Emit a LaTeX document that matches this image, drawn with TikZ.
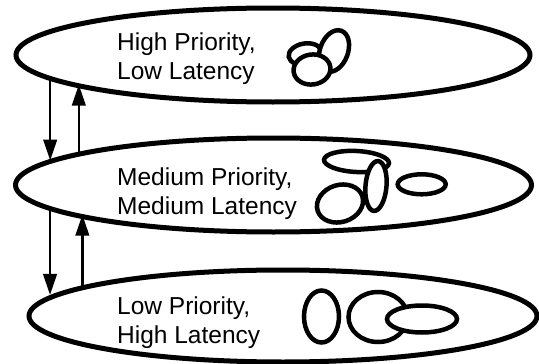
\documentclass[tikz,border=0pt]{standalone}
\usepackage{fontspec}
\setmainfont{Liberation Sans}
\usetikzlibrary{shapes.geometric,arrows.meta}
\begin{document}
\begin{tikzpicture}[x=1pt,y=-1pt,
  layer/.style={ellipse, draw, line width=5pt, inner sep=0pt, outer sep=0pt},
  lbl/.style={anchor=base west, inner sep=0pt, font=\fontsize{24.5}{29}\selectfont},
  blob/.style={draw, fill=white, line width=4.5pt},
  link/.style={line width=2.6pt, -{Triangle[length=21pt,width=13.5pt]}, shorten >=1pt}
]
\useasboundingbox (0,0) rectangle (539,364);
% layers
\node[layer, minimum width=514pt, minimum height=94pt] (top) at (273,55) {};
\node[layer, minimum width=516pt, minimum height=94pt] (mid) at (273.5,185) {};
\node[layer, minimum width=508pt, minimum height=92pt] (bot) at (283,316) {};
% labels
\node[lbl] (t1) at (117,50) {High Priority,};
\node[lbl] (t2) at (117,79) {Low Latency};
\node[lbl] (m1) at (117,185) {Medium Priority,};
\node[lbl] (m2) at (117,214) {Medium Latency};
\node[lbl] (b1) at (117,314) {Low Priority,};
\node[lbl] (b2) at (117,343) {High Latency};
% top icons
\draw[blob, rotate around={10:(305,54)}] (305,54) ellipse [x radius=16.5, y radius=10.5];
\draw[blob, rotate around={-20:(334,51)}] (334,51) ellipse [x radius=14, y radius=21.5];
\draw[blob, rotate around={8:(312,69.5)}] (312,69.5) ellipse [x radius=18.5, y radius=15];
% middle icons
\draw[blob, rotate around={-3:(356.5,161.5)}] (356.5,161.5) ellipse [x radius=32.5, y radius=10.5];
\draw[blob, rotate around={-5:(376,186)}] (376,186) ellipse [x radius=10.5, y radius=25];
\draw[blob, rotate around={18:(340,203.5)}] (340,203.5) ellipse [x radius=23.5, y radius=18.5];
\draw[blob] (421.7,184.3) ellipse [x radius=24, y radius=10];
% bottom icons
\draw[blob] (321.5,316.5) ellipse [x radius=17.5, y radius=26];
\draw[blob] (378,317) ellipse [x radius=29.5, y radius=25];
\draw[blob] (422,319) ellipse [x radius=35, y radius=13.5];
% links
\draw[link] (top.186.0) -- (top.186.0 |- mid.174.0);
\draw[link] (mid.171.2) -- (mid.171.2 |- top.188.8);
\draw[link] (mid.186.0) -- (mid.186.0 |- bot.175.5);
\draw[link] (bot.172.6) -- (bot.172.6 |- mid.188.8);
\end{tikzpicture}
\end{document}
